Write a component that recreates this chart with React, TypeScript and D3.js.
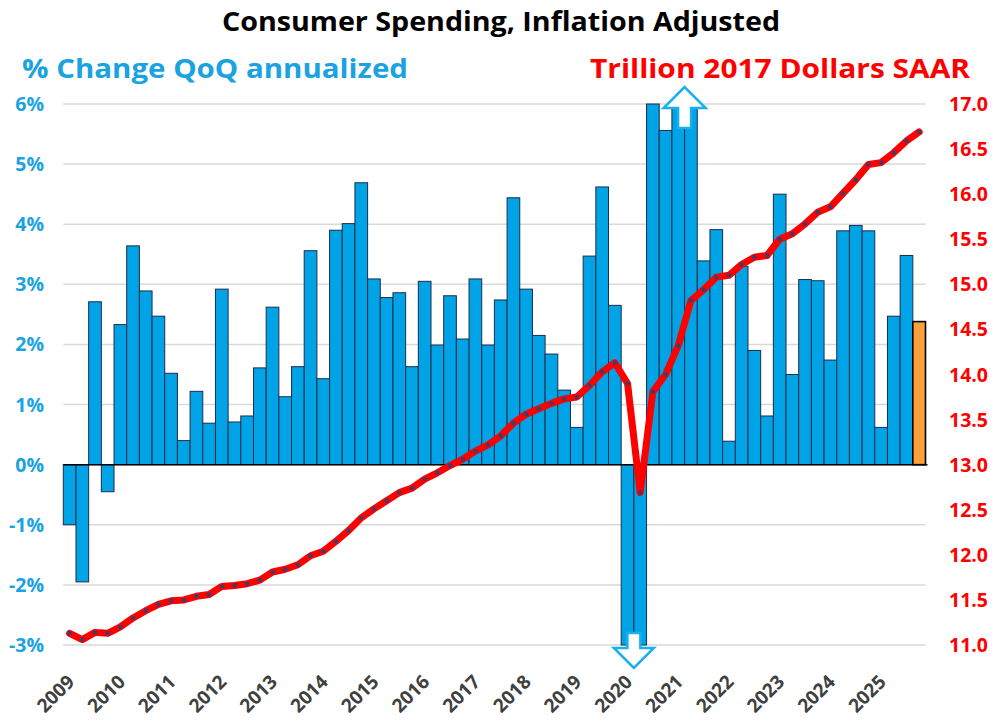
import React from 'react';
import * as d3 from 'd3';

const years = ['2009','2010','2011','2012','2013','2014','2015','2016','2017','2018','2019','2020','2021','2022','2023','2024','2025'];
const quarterNames = ['Q1','Q2','Q3','Q4'];

// % change QoQ annualized, 2009Q1 .. 2025Q4 (last one = orange estimate)
const growth = [
  -1.0, -1.95, 2.71, -0.45,
  2.33, 3.64, 2.89, 2.47,
  1.52, 0.40, 1.22, 0.69,
  2.92, 0.71, 0.81, 1.61,
  2.62, 1.13, 1.63, 3.56,
  1.43, 3.90, 4.01, 4.69,
  3.09, 2.78, 2.86, 1.63,
  3.05, 1.99, 2.81, 2.09,
  3.09, 1.99, 2.74, 4.44,
  2.92, 2.15, 1.84, 1.24,
  0.62, 3.47, 4.62, 2.65,
  -6.3, -30.5, 40.3, 5.56,
  9.5, 14.7, 3.39, 3.91,
  0.39, 3.30, 1.90, 0.81,
  4.50, 1.50, 3.08, 3.06,
  1.74, 3.89, 3.98, 3.89,
  0.62, 2.47, 3.48, 2.38,
];

// Trillion 2017 dollars SAAR
const level = [
  11.13, 11.06, 11.14, 11.13,
  11.20, 11.30, 11.38, 11.45,
  11.49, 11.50, 11.54, 11.56,
  11.65, 11.66, 11.68, 11.72,
  11.81, 11.84, 11.89, 11.99,
  12.04, 12.15, 12.27, 12.41,
  12.51, 12.60, 12.69, 12.74,
  12.84, 12.91, 12.99, 13.06,
  13.15, 13.22, 13.32, 13.46,
  13.56, 13.62, 13.68, 13.73,
  13.75, 13.88, 14.03, 14.13,
  13.90, 12.69, 13.81, 14.00,
  14.32, 14.82, 14.94, 15.08,
  15.10, 15.22, 15.30, 15.32,
  15.50, 15.56, 15.67, 15.80,
  15.86, 16.01, 16.16, 16.33,
  16.35, 16.46, 16.59, 16.69,
];

const leftTicks = [-3, -2, -1, 0, 1, 2, 3, 4, 5, 6];
const rightTicks = [11.0, 11.5, 12.0, 12.5, 13.0, 13.5, 14.0, 14.5, 15.0, 15.5, 16.0, 16.5, 17.0];

const quarters: string[] = [];
years.forEach((y) => quarterNames.forEach((q) => quarters.push(y + q)));
const cats = quarters.slice(0, growth.length);

const W = 1000, H = 726;
const LEFT = 63.3, RIGHT = 925.5, TOP = 104, BOTTOM = 645;
const BLUE = '#00A3E6';
const CYAN_TEXT = '#1AA3E0';
const RED = '#FF0000';
const FONT = "'Open Sans', 'DejaVu Sans', sans-serif";

export default function App() {
  const x = d3.scaleBand<string>().domain(cats).range([LEFT, RIGHT]).padding(0);
  const yL = d3.scaleLinear().domain([-3, 6]).range([BOTTOM, TOP]);
  const yR = d3.scaleLinear().domain([11, 17]).range([BOTTOM, TOP]);
  const bw = x.bandwidth();
  const cx = (i: number) => (x(cats[i]) as number) + bw / 2;

  const line = d3.line<number>().x((_, i) => cx(i)).y((d) => yR(d));
  const lastIdx = growth.length - 1;

  const downCx = (cx(44) + cx(45)) / 2;
  const upCx = (cx(48) + cx(49)) / 2;
  const y0 = yL(0);
  const yBot = yL(-3);
  const yTop = yL(6);
  const downArrow = [
    [downCx - 6.5, yBot - 12], [downCx + 6.5, yBot - 12], [downCx + 6.5, yBot + 3],
    [downCx + 20, yBot + 3], [downCx, yBot + 23], [downCx - 20, yBot + 3], [downCx - 6.5, yBot + 3],
  ];
  const upArrow = [
    [upCx - 6.5, yTop + 24], [upCx + 6.5, yTop + 24], [upCx + 6.5, yTop + 4],
    [upCx + 21, yTop + 4], [upCx, yTop - 17], [upCx - 21, yTop + 4], [upCx - 6.5, yTop + 4],
  ];

  return (
    <svg width={W} height={H} style={{ position: 'absolute', left: 0, top: 0, background: '#fff' }} fontFamily={FONT}>
      <rect x={0} y={0} width={W} height={H} fill="#fff" />
      {leftTicks.filter((t) => t !== 0).map((t) => (
        <line key={'g' + t} x1={LEFT} x2={RIGHT} y1={yL(t)} y2={yL(t)} stroke="#D9D9D9" strokeWidth={1.5} />
      ))}
      {growth.map((v, i) => {
        const c = Math.max(-3, Math.min(6, v));
        const ya = yL(Math.max(0, c));
        const yb = yL(Math.min(0, c));
        const isLast = i === lastIdx;
        return (
          <rect key={'b' + i} x={x(cats[i])} y={ya} width={bw} height={yb - ya}
            fill={isLast ? '#FBA03A' : BLUE} stroke={isLast ? '#000' : '#1C2E4A'} strokeWidth={isLast ? 1.6 : 1} />
        );
      })}
      <line x1={LEFT} x2={RIGHT + 2} y1={y0} y2={y0} stroke="#000" strokeWidth={1.5} />
      <polygon points={downArrow.map((p) => p.join(',')).join(' ')} fill="#fff" stroke="#19B0F0" strokeWidth={2.5} strokeLinejoin="miter" />
      <polygon points={upArrow.map((p) => p.join(',')).join(' ')} fill="#fff" stroke="#19B0F0" strokeWidth={2.5} strokeLinejoin="miter" />
      <path d={line(level) || ''} fill="none" stroke={RED} strokeWidth={7} strokeLinejoin="round" strokeLinecap="round" />
      {level.map((v, i) => (
        <circle key={'m' + i} cx={cx(i)} cy={yR(v)} r={2.2} fill="#3A3D6E" />
      ))}
      {leftTicks.map((t) => (
        <text key={'l' + t} x={44} y={yL(t) + 7} textAnchor="end" fontSize={19.5} fontWeight={700} fill={CYAN_TEXT}>{t + '%'}</text>
      ))}
      {rightTicks.map((t) => (
        <text key={'r' + t} x={949} y={yR(t) + 7} textAnchor="start" fontSize={19.5} fontWeight={700} fill={RED}>{t.toFixed(1)}</text>
      ))}
      {years.map((yr) => {
        const i = cats.indexOf(yr + 'Q1');
        const ax = cx(i) + 6;
        const ay = 683;
        return (
          <text key={'y' + yr} x={ax} y={ay} textAnchor="end" fontSize={19} fontWeight={700} fill="#404040"
            transform={`rotate(-45 ${ax} ${ay})`}>{yr}</text>
        );
      })}
      <text x={501} y={31} textAnchor="middle" fontSize={26} fontWeight={700} fill="#000" textLength={558} lengthAdjust="spacingAndGlyphs">Consumer Spending, Inflation Adjusted</text>
      <text x={22} y={78} textAnchor="start" fontSize={27} fontWeight={700} fill={CYAN_TEXT} textLength={386} lengthAdjust="spacingAndGlyphs">% Change QoQ annualized</text>
      <text x={970} y={78} textAnchor="end" fontSize={27} fontWeight={700} fill={RED} textLength={380} lengthAdjust="spacingAndGlyphs">Trillion 2017 Dollars SAAR</text>
    </svg>
  );
}
